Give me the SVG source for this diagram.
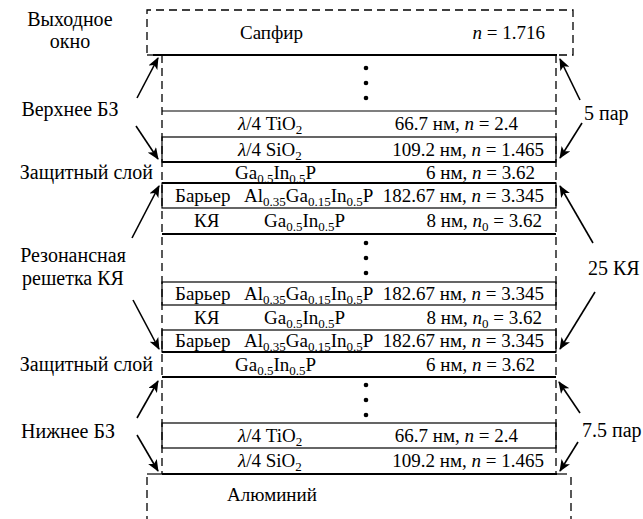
<svg xmlns="http://www.w3.org/2000/svg" width="643" height="519" viewBox="0 0 643 519">
<defs>
<style>
text{font-family:"Liberation Serif","Times New Roman",serif;font-size:19px;fill:#000}
.lab{font-size:20px}
.i{font-style:italic}
.s{font-size:13px}
.dash{fill:none;stroke:#000;stroke-width:1.3;stroke-dasharray:8 5}
.thick{stroke:#000;stroke-width:2.2}
.thin{stroke:#000;stroke-width:1.2}
.box{fill:none;stroke:#000;stroke-width:1.2}
.arr{stroke:#000;stroke-width:1.6;marker-end:url(#ah)}
.dot{fill:#000}
</style>
<marker id="ah" viewBox="0 0 12 10" refX="11" refY="5" markerWidth="12" markerHeight="10" markerUnits="userSpaceOnUse" orient="auto">
<path d="M0,0 L12,5 L0,10 L3,5 Z" fill="#000"/>
</marker>
</defs>
<rect width="643" height="519" fill="#fff"/>

<g id="sapphire">
<path class="dash" d="M147,53 V10 H573 V55 H557"/>
<path class="dash" d="M147,55 H153"/>
<text x="240" y="39">Сапфир</text>
<text x="545" y="39" text-anchor="end"><tspan class="i">n</tspan> = 1.716</text>
</g>

<g id="stack-walls">
<line class="dash" x1="162" y1="55" x2="162" y2="474"/>
<line class="dash" x1="556" y1="55" x2="556" y2="474"/>
</g>

<g id="top-dbr">
<line class="thick" x1="153" y1="55" x2="557" y2="55"/>
<circle class="dot" cx="366" cy="68" r="2.3"/>
<circle class="dot" cx="366" cy="83" r="2.3"/>
<circle class="dot" cx="366" cy="98" r="2.3"/>
<line class="thin" x1="162" y1="111" x2="556" y2="111"/>
<text x="238" y="130"><tspan class="i">λ</tspan>/4 TiO<tspan class="s" dy="4">2</tspan></text>
<text x="518" y="130" text-anchor="end">66.7 нм, <tspan class="i">n</tspan> = 2.4</text>
<rect class="box" x="162" y="137" width="394" height="25"/>
<line class="thick" x1="162" y1="162" x2="556" y2="162"/>
<text x="238" y="156"><tspan class="i">λ</tspan>/4 SiO<tspan class="s" dy="4">2</tspan></text>
<text x="544" y="156" text-anchor="end">109.2 нм, <tspan class="i">n</tspan> = 1.465</text>
</g>

<g id="cap-top">
<text x="235" y="179">Ga<tspan class="s" dy="4">0.5</tspan><tspan dy="-4">In</tspan><tspan class="s" dy="4">0.5</tspan><tspan dy="-4">P</tspan></text>
<text x="535" y="179" text-anchor="end">6 нм, <tspan class="i">n</tspan> = 3.62</text>
</g>

<g id="qw-grid">
<rect class="box" x="162" y="183" width="394" height="25"/>
<line class="thick" x1="162" y1="183" x2="556" y2="183"/>
<text x="175" y="202">Барьер</text>
<text x="244" y="202">Al<tspan class="s" dy="4">0.35</tspan><tspan dy="-4">Ga</tspan><tspan class="s" dy="4">0.15</tspan><tspan dy="-4">In</tspan><tspan class="s" dy="4">0.5</tspan><tspan dy="-4">P</tspan></text>
<text x="544" y="202" text-anchor="end">182.67 нм, <tspan class="i">n</tspan> = 3.345</text>
<text x="194" y="227">КЯ</text>
<text x="264" y="227">Ga<tspan class="s" dy="4">0.5</tspan><tspan dy="-4">In</tspan><tspan class="s" dy="4">0.5</tspan><tspan dy="-4">P</tspan></text>
<text x="542" y="227" text-anchor="end">8 нм, <tspan class="i">n</tspan><tspan class="s" dy="4">0</tspan><tspan dy="-4"> = 3.62</tspan></text>
<line class="thick" x1="162" y1="234" x2="556" y2="234"/>
<circle class="dot" cx="366" cy="243" r="2.3"/>
<circle class="dot" cx="366" cy="258" r="2.3"/>
<circle class="dot" cx="366" cy="273" r="2.3"/>
<rect class="box" x="162" y="282" width="394" height="23"/>
<text x="175" y="300">Барьер</text>
<text x="244" y="300">Al<tspan class="s" dy="4">0.35</tspan><tspan dy="-4">Ga</tspan><tspan class="s" dy="4">0.15</tspan><tspan dy="-4">In</tspan><tspan class="s" dy="4">0.5</tspan><tspan dy="-4">P</tspan></text>
<text x="544" y="300" text-anchor="end">182.67 нм, <tspan class="i">n</tspan> = 3.345</text>
<text x="194" y="324">КЯ</text>
<text x="264" y="324">Ga<tspan class="s" dy="4">0.5</tspan><tspan dy="-4">In</tspan><tspan class="s" dy="4">0.5</tspan><tspan dy="-4">P</tspan></text>
<text x="542" y="324" text-anchor="end">8 нм, <tspan class="i">n</tspan><tspan class="s" dy="4">0</tspan><tspan dy="-4"> = 3.62</tspan></text>
<rect class="box" x="162" y="330" width="394" height="22"/>
<line class="thick" x1="162" y1="352" x2="556" y2="352"/>
<text x="175" y="347">Барьер</text>
<text x="244" y="347">Al<tspan class="s" dy="4">0.35</tspan><tspan dy="-4">Ga</tspan><tspan class="s" dy="4">0.15</tspan><tspan dy="-4">In</tspan><tspan class="s" dy="4">0.5</tspan><tspan dy="-4">P</tspan></text>
<text x="544" y="347" text-anchor="end">182.67 нм, <tspan class="i">n</tspan> = 3.345</text>
</g>

<g id="cap-bottom">
<text x="235" y="371">Ga<tspan class="s" dy="4">0.5</tspan><tspan dy="-4">In</tspan><tspan class="s" dy="4">0.5</tspan><tspan dy="-4">P</tspan></text>
<text x="535" y="371" text-anchor="end">6 нм, <tspan class="i">n</tspan> = 3.62</text>
</g>

<g id="bottom-dbr">
<line class="thick" x1="162" y1="377" x2="556" y2="377"/>
<circle class="dot" cx="366" cy="385" r="2.3"/>
<circle class="dot" cx="366" cy="400" r="2.3"/>
<circle class="dot" cx="366" cy="415" r="2.3"/>
<rect class="box" x="162" y="423" width="394" height="25"/>
<text x="238" y="442"><tspan class="i">λ</tspan>/4 TiO<tspan class="s" dy="4">2</tspan></text>
<text x="518" y="442" text-anchor="end">66.7 нм, <tspan class="i">n</tspan> = 2.4</text>
<text x="238" y="467"><tspan class="i">λ</tspan>/4 SiO<tspan class="s" dy="4">2</tspan></text>
<text x="544" y="467" text-anchor="end">109.2 нм, <tspan class="i">n</tspan> = 1.465</text>
<line class="thick" x1="162" y1="474" x2="557" y2="474"/>
</g>

<g id="aluminium">
<line class="thin" x1="147" y1="474" x2="162" y2="474"/>
<line class="thin" x1="557" y1="474" x2="567" y2="474"/>
<line class="dash" x1="147" y1="477" x2="147" y2="519"/>
<line class="dash" x1="571" y1="477" x2="571" y2="519"/>
<text x="227" y="501">Алюминий</text>
</g>

<g id="labels">
<text class="lab" x="70" y="26" text-anchor="middle">Выходное</text>
<text class="lab" x="70" y="48" text-anchor="middle">окно</text>
<text class="lab" x="70" y="116" text-anchor="middle">Верхнее БЗ</text>
<text class="lab" x="153" y="179" text-anchor="end">Защитный слой</text>
<text class="lab" x="73" y="262" text-anchor="middle">Резонансная</text>
<text class="lab" x="73" y="285" text-anchor="middle">решетка КЯ</text>
<text class="lab" x="153" y="371" text-anchor="end">Защитный слой</text>
<text class="lab" x="68" y="438" text-anchor="middle">Нижнее БЗ</text>
<text class="lab" x="584" y="120">5 пар</text>
<text class="lab" x="588" y="275">25 КЯ</text>
<text class="lab" x="582" y="437">7.5 пар</text>
</g>

<g id="connectors">
<line class="arr" x1="137" y1="98" x2="158" y2="58"/>
<line class="arr" x1="136" y1="126" x2="158" y2="159"/>
<line class="arr" x1="132" y1="238" x2="159" y2="186"/>
<line class="arr" x1="133" y1="300" x2="159" y2="349"/>
<line class="arr" x1="137" y1="418" x2="158" y2="381"/>
<line class="arr" x1="137" y1="435" x2="158" y2="471"/>
<line class="arr" x1="580" y1="100" x2="560" y2="59"/>
<line class="arr" x1="582" y1="123" x2="560" y2="158"/>
<line class="arr" x1="593" y1="243" x2="560" y2="186"/>
<line class="arr" x1="595" y1="292" x2="560" y2="349"/>
<line class="arr" x1="580" y1="413" x2="559" y2="382"/>
<line class="arr" x1="578" y1="442" x2="560" y2="471"/>
</g>
</svg>
